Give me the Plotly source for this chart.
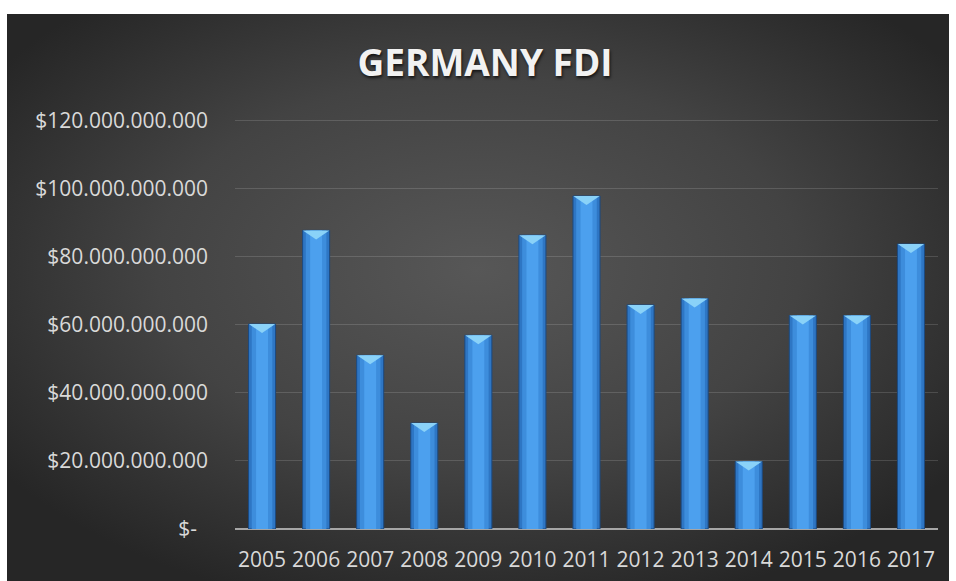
import base64
import plotly.graph_objects as go

# Germany foreign direct investment, net inflows (US$)
years = ["2005", "2006", "2007", "2008", "2009", "2010", "2011",
         "2012", "2013", "2014", "2015", "2016", "2017"]
fdi_usd = [60.2e9, 87.7e9, 51.0e9, 31.1e9, 56.9e9, 86.3e9, 97.8e9,
           65.8e9, 67.7e9, 19.8e9, 62.7e9, 62.7e9, 83.7e9]
y_ticks = [0, 20e9, 40e9, 60e9, 80e9, 100e9, 120e9]
y_max = 121e9


def money(v):
    # accounting style with dot thousands separator
    if v == 0:
        return "$-\u00a0\u00a0"
    return "$" + f"{v:,.0f}".replace(",", ".")


x_pos = list(range(len(years)))

# page geometry (px)
W, H = 956, 581
L, R, T, B = 235, 18, 117, 52
plot_w, plot_h = W - L - R, H - T - B

# dark radial-gradient backdrop
svg = (
    "<svg xmlns='http://www.w3.org/2000/svg' width='942' height='567' "
    "viewBox='0 0 942 567' preserveAspectRatio='none'>"
    "<defs><radialGradient id='g' cx='50%' cy='45%' r='62%'>"
    "<stop offset='0' stop-color='#575757'/>"
    "<stop offset='0.55' stop-color='#434343'/>"
    "<stop offset='1' stop-color='#262626'/>"
    "</radialGradient></defs>"
    "<rect width='942' height='567' fill='url(#g)'/></svg>"
)
bg_uri = "data:image/svg+xml;base64," + base64.b64encode(svg.encode()).decode()
bg_left, bg_top, bg_w, bg_h = 7, 14, 942, 567

fig = go.Figure()

# layered bars give each column a rounded, lit look
for width, color, line in [(0.5, "#2e76c4", "#1c4a80"),
                           (0.38, "#3d8ddc", None),
                           (0.22, "#4ca0ee", None)]:
    fig.add_trace(go.Bar(
        x=x_pos, y=fdi_usd, width=width,
        marker=dict(color=color,
                    line=dict(color=line or color, width=1 if line else 0)),
        showlegend=False, hoverinfo="skip" if line is None else None,
        customdata=years,
        hovertemplate="%{customdata}: %{y:$,.0f}<extra></extra>" if line else None,
    ))

# bevelled top of every bar
bevel = 9 * y_max / plot_h
shapes = []
for xi, v in zip(x_pos, fdi_usd):
    shapes.append(dict(
        type="path", xref="x", yref="y", layer="above",
        path=f"M {xi-0.245},{v} L {xi+0.245},{v} L {xi},{v-bevel} Z",
        fillcolor="#8ad2f8", line=dict(width=0),
    ))

fig.update_layout(
    width=W, height=H,
    margin=dict(l=L, r=R, t=T, b=B, autoexpand=False),
    paper_bgcolor="white",
    plot_bgcolor="rgba(0,0,0,0)",
    barmode="overlay",
    shapes=shapes,
    images=[dict(
        source=bg_uri, xref="paper", yref="paper", layer="below",
        x=(bg_left - L) / plot_w, y=(H - B - bg_top) / plot_h,
        sizex=bg_w / plot_w, sizey=bg_h / plot_h,
        xanchor="left", yanchor="top", sizing="stretch",
    )],
    title=dict(
        text="GERMANY FDI",
        x=485 / W, xref="container", xanchor="center",
        y=1 - 63 / H, yref="container", yanchor="middle",
        font=dict(family="Open Sans", size=37, color="#f2f2f2", weight=700,
                  shadow="1px 2px 3px rgba(0,0,0,0.7)"),
    ),
    font=dict(family="Open Sans", color="#d9d9d9"),
    xaxis=dict(
        range=[-0.5, len(years) - 0.5],
        tickvals=x_pos, ticktext=years,
        tickfont=dict(size=21, color="#d9d9d9"),
        showgrid=False, zeroline=False,
        showline=False, ticks="",
        ticklabelstandoff=16, automargin=False,
        fixedrange=True,
    ),
    yaxis=dict(
        range=[0, y_max],
        tickvals=y_ticks, ticktext=[money(v) for v in y_ticks],
        tickfont=dict(size=21, color="#d9d9d9"),
        showgrid=True, gridcolor="rgba(255,255,255,0.14)", gridwidth=1,
        zeroline=True, zerolinecolor="#a6a6a6", zerolinewidth=2,
        ticks="", ticklabelstandoff=26, automargin=False,
        fixedrange=True,
    ),
)

fig.write_html("out.html")
